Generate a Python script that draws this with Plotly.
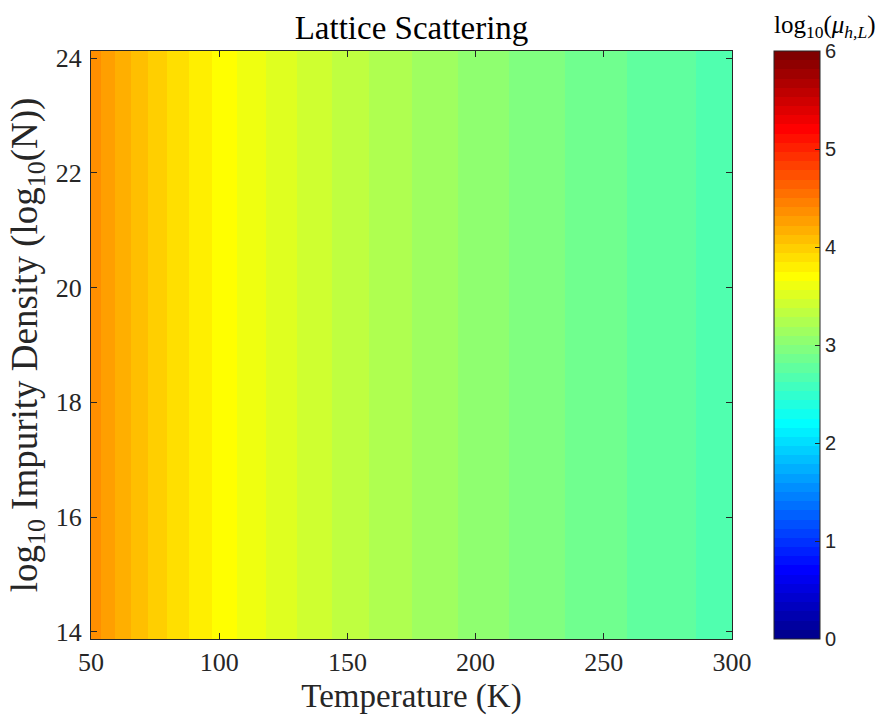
import numpy as np
import plotly.graph_objects as go

# ---- data ----
# Temperature band edges (K): colour is constant within each band
temp_edges = [50, 53.9, 59.5, 65.6, 72.4, 79.8, 88.1, 97.1, 107.1, 118.2, 130.4,
              143.8, 158.6, 175.0, 193.0, 212.9, 234.8, 259.1, 285.8, 300]
# log10 of hole lattice mobility in each band
log_mu = [4.36, 4.27, 4.17, 4.08, 3.98, 3.89, 3.80, 3.70, 3.61, 3.52, 3.42,
          3.33, 3.23, 3.14, 3.05, 2.95, 2.86, 2.77, 2.67]
# log10 impurity density extent
density_edges = [13.875, 24.125]
x_ticks = [50, 100, 150, 200, 250, 300]
y_ticks = [14, 16, 18, 20, 22, 24]
cbar_ticks = [0, 1, 2, 3, 4, 5, 6]

# ---- MATLAB jet(64) as a discrete colour scale ----
def jet(n=64):
    m = int(np.ceil(n / 4))
    u = np.concatenate([np.arange(1, m + 1) / m, np.ones(m - 1), np.arange(m, 0, -1) / m])
    g = int(np.ceil(m / 2)) - (1 if m % 4 == 1 else 0) + np.arange(1, len(u) + 1)
    r = g + m
    b = g - m
    J = np.zeros((n, 3))
    for idx, val in zip(r, u):
        if 1 <= idx <= n:
            J[idx - 1, 0] = val
    for idx, val in zip(g, u):
        if 1 <= idx <= n:
            J[idx - 1, 1] = val
    for idx, val in zip(b, u):
        if 1 <= idx <= n:
            J[idx - 1, 2] = val
    return J

J = jet(64)
colorscale = []
for i, c in enumerate(J):
    col = "rgb(%d,%d,%d)" % tuple(int(round(v * 255)) for v in c)
    colorscale.append([i / 64, col])
    colorscale.append([(i + 1) / 64, col])

serif = "Liberation Serif"
sans = "Liberation Sans"
dark = "#262626"

fig = go.Figure()
fig.add_trace(go.Heatmap(
    x=temp_edges,
    y=density_edges,
    z=[log_mu],
    zmin=0, zmax=6,
    colorscale=colorscale,
    zsmooth=False,
    hoverinfo="skip",
    colorbar=dict(
        x=1.0663, xanchor="left", xpad=0,
        y=0.5, yanchor="middle", len=1.0, lenmode="fraction", ypad=0,
        thickness=46, thicknessmode="pixels",
        outlinewidth=1, outlinecolor=dark,
        tickvals=cbar_ticks, ticks="inside", ticklen=5, tickcolor=dark,
        tickprefix="\u2009",
        tickfont=dict(family=sans, size=20, color=dark),
    ),
))

fig.update_layout(
    width=876, height=722,
    margin=dict(l=91, r=143.5, t=51.3, b=83.3),
    plot_bgcolor="white", paper_bgcolor="white",
    title=dict(text="Lattice Scattering", x=0.5, xref="paper", xanchor="center",
               y=0.962, yanchor="middle",
               font=dict(family=serif, size=33, color="black")),
    xaxis=dict(
        range=[50, 300], tickvals=x_ticks,
        ticks="inside", ticklen=6, tickcolor=dark, mirror="ticks",
        showline=True, linecolor=dark, linewidth=1, showgrid=False, zeroline=False,
        tickfont=dict(family=serif, size=26, color=dark),
        title=dict(text="Temperature (K)", standoff=7,
                   font=dict(family=serif, size=33, color=dark)),
    ),
    yaxis=dict(
        range=[13.875, 24.125], tickvals=y_ticks,
        ticks="inside", ticklen=6, tickcolor=dark, mirror="ticks",
        showline=True, linecolor=dark, linewidth=1, showgrid=False, zeroline=False,
        ticklabelstandoff=3,
        tickfont=dict(family=serif, size=26, color=dark),
        title=dict(text="log<sub>10</sub> Impurity Density (log<sub>10</sub>(N))", standoff=6,
                   font=dict(family=serif, size=37, color=dark)),
    ),
    annotations=[dict(
        text="log<sub>10</sub>(<i>μ</i><sub><i>h,L</i></sub>)",
        xref="paper", yref="paper", x=1.1445, y=1.0, xanchor="center", yanchor="bottom",
        yshift=7, showarrow=False,
        font=dict(family=serif, size=25, color="black"),
    )],
)

fig.write_html("out.html", post_script="document.body.style.margin='0px';",
               config={"displayModeBar": False})
